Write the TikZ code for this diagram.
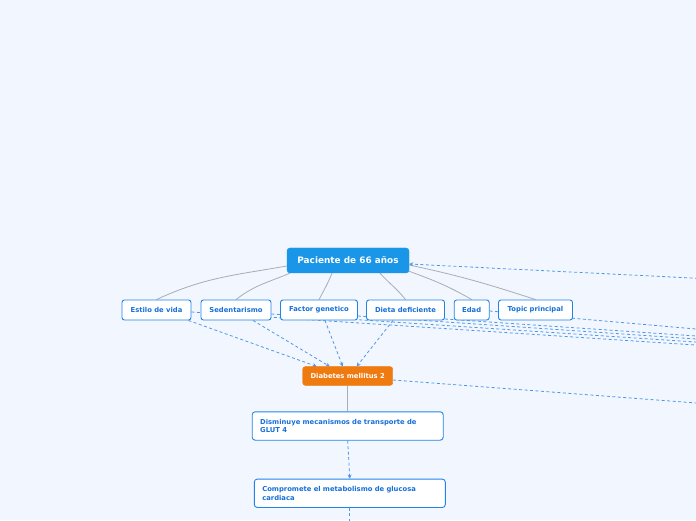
\documentclass[tikz,border=0pt]{standalone}
\usepackage{fontspec}
\setmainfont{DejaVu Sans}
\usetikzlibrary{arrows.meta,backgrounds}
\definecolor{bgcol}{RGB}{242,246,254}
\definecolor{rootfill}{RGB}{26,150,232}
\definecolor{topicblue}{RGB}{34,132,232}
\definecolor{topictext}{RGB}{22,112,216}
\definecolor{diafill}{RGB}{238,122,16}
\definecolor{linkgray}{RGB}{168,173,184}
\definecolor{relblue}{RGB}{78,152,236}
\tikzset{
    lab/.style={
        font=\fontsize{6.8}{8.5}\selectfont\bfseries
    }
}

\begin{document}
\begin{tikzpicture}[x=1pt,y=1pt, line cap=round, line join=round]

\tikzset{
  conn/.style={draw=linkgray, line width=0.8pt},
  rel/.style={draw=relblue, line width=0.8pt, line cap=butt, dash pattern=on 3pt off 2.5pt},
  relarr/.style={rel, -{Stealth[length=4pt, width=4pt]}},
  root/.style={rectangle, rounded corners=3pt, draw=rootfill, fill=rootfill, text=white,
    minimum width=122pt, minimum height=25pt, inner sep=0pt, font=\fontsize{8.9}{10}\selectfont\bfseries},
  topic/.style={rectangle, rounded corners=2.5pt, draw=topicblue, fill=white, line width=0.9pt,
    text=topictext, minimum height=20pt, inner sep=0pt, lab},
  dia/.style={rectangle, rounded corners=2.5pt, draw=diafill, fill=diafill, text=white,
    minimum width=90pt, minimum height=18.7pt, inner sep=0pt, lab},
  note/.style={rectangle, rounded corners=3pt, draw=topicblue, fill=white, line width=0.9pt,
    text=topictext, text width=175pt, align=left, minimum height=28.4pt,
    inner xsep=8pt, inner ysep=0pt, lab},
}

\useasboundingbox (0,0) rectangle (696,520);

% nodes
\node[root] (paciente) at (348,259.5) {Paciente de 66 años};
\node[topic, minimum width=69pt] (estilo) at (156.5,210) {Estilo de vida};
\node[topic, minimum width=70pt] (sedent) at (236,210) {Sedentarismo};
\node[topic, minimum width=77pt] (factor) at (319,210) {Factor genetico};
\node[topic, minimum width=78pt] (dieta)  at (405.5,210) {Dieta deficiente};
\node[topic, minimum width=35pt] (edad)   at (471.7,210) {Edad};
\node[topic, minimum width=74pt] (topicp) at (535.5,210) {Topic principal};
\node[dia] (diabetes) at (347.7,144) {Diabetes mellitus 2};
\node[note] (disminuye) at (347.7,94) {Disminuye mecanismos de transporte de\\GLUT 4};
\node[note] (compromete) at (349.8,26.7) {Compromete el metabolismo de glucosa\\cardiaca};

% far ends off the page
\coordinate (offP) at (720,240.6);
\coordinate (offD) at (720,115.2);
\coordinate (offE) at (720,173.4);
\coordinate (offS) at (720,176.4);
\coordinate (offF) at (720,179.4);
\coordinate (offT) at (720,182.4);
\coordinate (offA) at (720,188.9);
\coordinate (offC) at (349.8,-12);

\begin{scope}[on background layer]
\fill[bgcol] (0,0) rectangle (696,520);
\clip (0,0) rectangle (696,520);

% root to topics
\draw[conn] ([yshift=-5.5pt]paciente.west) to[out=190,in=25] (estilo.north);
\draw[conn] ([xshift=3pt]paciente.south west) to[out=203,in=38] (sedent.north);
\draw[conn] ([xshift=-16pt]paciente.south) to[out=248,in=62] (factor.north);
\draw[conn] ([xshift=32pt]paciente.south) to[out=-48,in=128] (dieta.north);
\draw[conn] ([xshift=-3pt,yshift=3pt]paciente.south east) to[out=-20,in=150] (edad.north);
\draw[conn] ([yshift=-4.5pt]paciente.east) to[out=-12,in=162] (topicp.north);

% diabetes branch
\draw[conn] (diabetes.south) -- (disminuye.north);
\draw[relarr] (disminuye.south) -- (compromete.north);
\draw[rel] (compromete.south) -- (offC);

% causes into diabetes
\draw[relarr] ([xshift=-3pt]estilo.south east) -- ([xshift=-31pt]diabetes.north);
\draw[relarr] ([xshift=17pt]sedent.south) -- ([xshift=-18pt]diabetes.north);
\draw[relarr] ([xshift=6pt]factor.south) -- ([xshift=-5pt]diabetes.north);
\draw[relarr] ([xshift=-12.5pt]dieta.south) -- ([xshift=9pt]diabetes.north);

% links running off to the right
\draw[relarr] (offP) -- ([yshift=-3.5pt]paciente.east);
\draw[relarr] ([yshift=-4pt]diabetes.east) -- (offD);
\draw[relarr] ([yshift=-2pt]estilo.east) -- (offE);
\draw[relarr] ([yshift=-4pt]sedent.east) -- (offS);
\draw[relarr] ([yshift=-6pt]factor.east) -- (offF);
\draw[relarr] ([yshift=-9pt]dieta.east) -- (offT);
\draw[relarr] ([yshift=-1pt]edad.east) -- (offA);
\end{scope}

\end{tikzpicture}
\end{document}
